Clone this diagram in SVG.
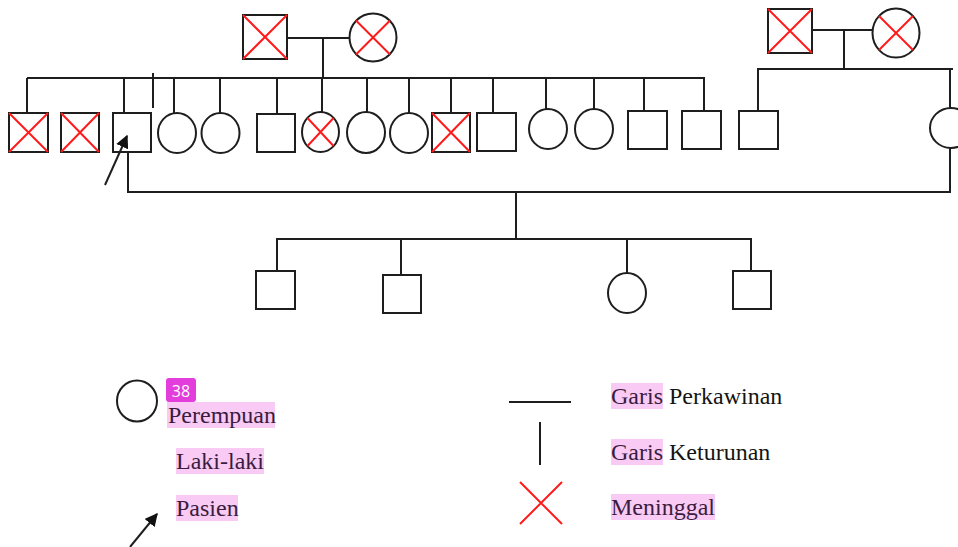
<svg xmlns="http://www.w3.org/2000/svg" width="958" height="547" viewBox="0 0 958 547">
  <defs>
    <style>
      .ln { stroke: #1e1e1e; stroke-width: 2; fill: none; stroke-linecap: butt; }
      .sym { fill: #ffffff; stroke: #1e1e1e; stroke-width: 2; }
      .x { stroke: #ff1a1a; stroke-width: 2; fill: none; }
      .lbl { font-family: "Liberation Serif", "Times New Roman", serif; font-size: 24px; }
      .hl { fill: #f8caf4; }
      .tx-hl { fill: #3a1c40; }
      .tx { fill: #141414; }
    </style>
    <marker id="arrowhead" viewBox="0 0 10 10" refX="9" refY="5" markerWidth="6.5" markerHeight="6.5" orient="auto" markerUnits="strokeWidth">
      <path d="M0,0 L10,5 L0,10 Z" fill="#111"/>
    </marker>
  </defs>

  <!-- connectors: marriage, sibship and descent lines -->
  <g id="connectors" class="ln">
    <!-- paternal grandparents -->
    <line x1="287" y1="38" x2="350" y2="38"/>
    <line x1="323" y1="38" x2="323" y2="78"/>
    <line x1="27" y1="78" x2="705" y2="78"/>
    <line x1="27" y1="78" x2="27" y2="113"/>
    <line x1="124" y1="78" x2="124" y2="113"/>
    <line x1="153" y1="73" x2="153" y2="108"/>
    <line x1="174" y1="78" x2="174" y2="114"/>
    <line x1="220" y1="78" x2="220" y2="113"/>
    <line x1="277" y1="78" x2="277" y2="114"/>
    <line x1="322" y1="78" x2="322" y2="113"/>
    <line x1="367" y1="78" x2="367" y2="112"/>
    <line x1="409" y1="78" x2="409" y2="113"/>
    <line x1="451" y1="78" x2="451" y2="113"/>
    <line x1="493" y1="78" x2="493" y2="113"/>
    <line x1="546" y1="78" x2="546" y2="109"/>
    <line x1="594" y1="78" x2="594" y2="109"/>
    <line x1="644" y1="78" x2="644" y2="111"/>
    <line x1="704" y1="78" x2="704" y2="111"/>
    <!-- maternal grandparents -->
    <line x1="812" y1="30" x2="873" y2="30"/>
    <line x1="844" y1="30" x2="844" y2="69"/>
    <line x1="757" y1="69" x2="953" y2="69"/>
    <line x1="758" y1="69" x2="758" y2="111"/>
    <line x1="950" y1="69" x2="950" y2="108"/>
    <!-- patient's marriage -->
    <line x1="128" y1="152" x2="128" y2="192"/>
    <line x1="950" y1="148" x2="950" y2="192"/>
    <line x1="127" y1="192" x2="951" y2="192"/>
    <line x1="516" y1="192" x2="516" y2="239"/>
    <!-- children -->
    <line x1="276" y1="239" x2="752" y2="239"/>
    <line x1="277" y1="239" x2="277" y2="271"/>
    <line x1="401" y1="239" x2="401" y2="275"/>
    <line x1="627" y1="239" x2="627" y2="273"/>
    <line x1="751" y1="239" x2="751" y2="271"/>
  </g>

  <!-- generation I -->
  <g id="gp-father">
    <rect class="sym" x="243" y="15" width="44" height="44"/>
    <path class="x" d="M243,15 L287,59 M287,15 L243,59"/>
  </g>
  <g id="gp-mother">
    <ellipse class="sym" cx="373" cy="37.5" rx="23.5" ry="24"/>
    <path class="x" d="M356,20.5 L390,54.5 M390,20.5 L356,54.5"/>
  </g>
  <g id="gp2-father">
    <rect class="sym" x="768" y="9" width="44" height="44"/>
    <path class="x" d="M768,9 L812,53 M812,9 L768,53"/>
  </g>
  <g id="gp2-mother">
    <ellipse class="sym" cx="896" cy="33" rx="23.5" ry="24.5"/>
    <path class="x" d="M879,16 L913,50 M913,16 L879,50"/>
  </g>

  <!-- generation II -->
  <g id="s1">
    <rect class="sym" x="9" y="113" width="39" height="39"/>
    <path class="x" d="M9,113 L48,152 M48,113 L9,152"/>
  </g>
  <g id="s2">
    <rect class="sym" x="61" y="113" width="38" height="39"/>
    <path class="x" d="M61,113 L99,152 M99,113 L61,152"/>
  </g>
  <g id="proband">
    <rect class="sym" x="113" y="113" width="38" height="39"/>
    <line class="ln" x1="105" y1="185" x2="127" y2="136" marker-end="url(#arrowhead)"/>
  </g>
  <g id="s4"><ellipse class="sym" cx="177" cy="133" rx="19" ry="20"/></g>
  <g id="s5"><ellipse class="sym" cx="220.5" cy="133" rx="19" ry="20"/></g>
  <g id="s6"><rect class="sym" x="257" y="114" width="38" height="38"/></g>
  <g id="s7">
    <ellipse class="sym" cx="320.5" cy="132" rx="18.5" ry="20"/>
    <path class="x" d="M307.5,118 L333.5,146 M333.5,118 L307.5,146"/>
  </g>
  <g id="s8"><ellipse class="sym" cx="366" cy="132.5" rx="19" ry="20.5"/></g>
  <g id="s9"><ellipse class="sym" cx="409" cy="133" rx="19" ry="20"/></g>
  <g id="s10">
    <rect class="sym" x="432" y="113" width="38" height="39"/>
    <path class="x" d="M432,113 L470,152 M470,113 L432,152"/>
  </g>
  <g id="s11"><rect class="sym" x="477" y="113" width="39" height="38"/></g>
  <g id="s12"><ellipse class="sym" cx="548" cy="129" rx="19" ry="20"/></g>
  <g id="s13"><ellipse class="sym" cx="594" cy="129" rx="19" ry="20"/></g>
  <g id="s14"><rect class="sym" x="628" y="111" width="39" height="38"/></g>
  <g id="s15"><rect class="sym" x="682" y="111" width="39" height="38"/></g>
  <g id="b1"><rect class="sym" x="739" y="111" width="39" height="38"/></g>
  <g id="spouse"><ellipse class="sym" cx="951" cy="128" rx="21" ry="20"/></g>

  <!-- generation III -->
  <g id="c1"><rect class="sym" x="256" y="271" width="39" height="38"/></g>
  <g id="c2"><rect class="sym" x="383" y="275" width="38" height="38"/></g>
  <g id="c3"><ellipse class="sym" cx="627" cy="293" rx="19" ry="20"/></g>
  <g id="c4"><rect class="sym" x="733" y="271" width="38" height="38"/></g>

  <!-- legend -->
  <g id="legend">
    <ellipse class="sym" cx="137" cy="401" rx="20" ry="20.5"/>
    <line class="ln" x1="130" y1="547" x2="157" y2="514" marker-end="url(#arrowhead)"/>
    <line class="ln" x1="509" y1="402" x2="571" y2="402"/>
    <line class="ln" x1="540" y1="422" x2="540" y2="465"/>
    <path class="x" d="M520,482 L562,524 M562,482 L520,524"/>

    <rect x="166" y="378" width="30" height="24" rx="3" fill="#e33ddc"/>
    <text x="181" y="397" text-anchor="middle" font-family="'Open Sans', 'Noto Sans', sans-serif" font-size="16" fill="#ffffff">38</text>

    <rect class="hl" x="167" y="402" width="108" height="26"/>
    <text class="lbl tx-hl" x="168" y="423">Perempuan</text>
    <rect class="hl" x="176" y="448" width="88" height="26"/>
    <text class="lbl tx-hl" x="176" y="469">Laki-laki</text>
    <rect class="hl" x="176" y="495" width="62" height="26"/>
    <text class="lbl tx-hl" x="176" y="516">Pasien</text>

    <rect class="hl" x="611" y="383" width="52" height="26"/>
    <text class="lbl" x="611" y="404"><tspan class="tx-hl">Garis</tspan><tspan class="tx"> Perkawinan</tspan></text>
    <rect class="hl" x="611" y="439" width="52" height="26"/>
    <text class="lbl" x="611" y="460"><tspan class="tx-hl">Garis</tspan><tspan class="tx"> Keturunan</tspan></text>
    <rect class="hl" x="611" y="494" width="104" height="26"/>
    <text class="lbl tx-hl" x="611" y="515">Meninggal</text>
  </g>
</svg>
